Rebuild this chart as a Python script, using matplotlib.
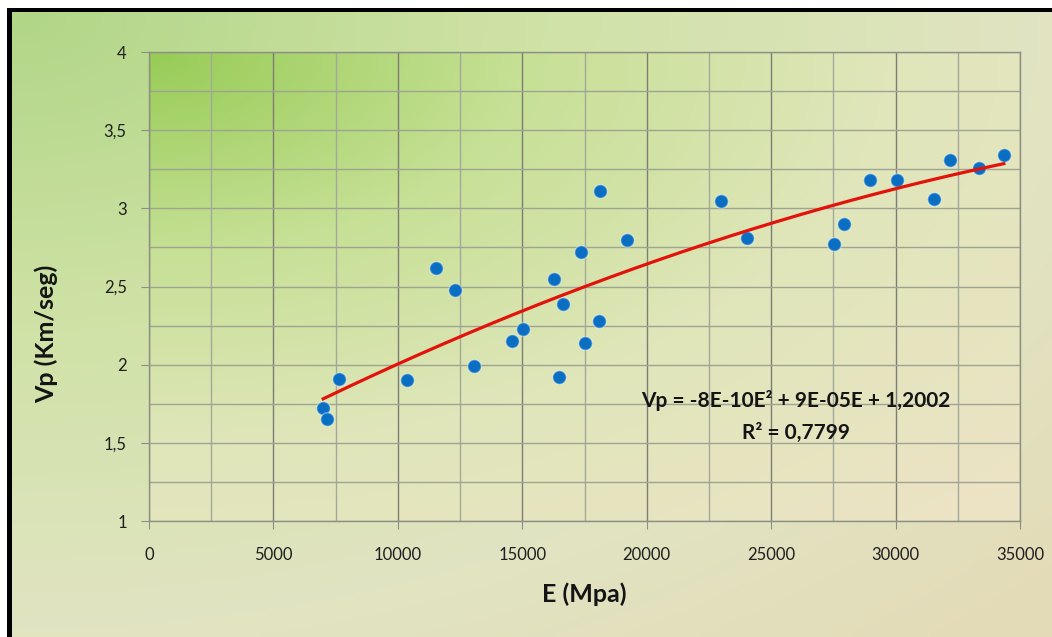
import numpy as np
import matplotlib
matplotlib.use("Agg")
import matplotlib.pyplot as plt
import matplotlib.ticker as ticker
from matplotlib.colors import LinearSegmentedColormap

plt.rcParams['font.family'] = ['Lato', 'DejaVu Sans']

# Young's modulus (MPa) vs P-wave velocity (km/s)
E_mpa = [7000, 7160, 7640, 10380, 11550, 12310, 13070, 14600, 15040, 16290,
         16650, 16490, 17340, 17500, 18100, 18140, 19190, 22970, 24010, 27510,
         27920, 28960, 30050, 31540, 32180, 33350, 34350]
vp_kms = [1.72, 1.65, 1.91, 1.90, 2.62, 2.48, 1.99, 2.15, 2.23, 2.55,
          2.39, 1.92, 2.72, 2.14, 2.28, 3.11, 2.80, 3.05, 2.81, 2.77,
          2.90, 3.18, 3.18, 3.06, 3.31, 3.26, 3.34]

eq_label = "Vp = -8E-10E² + 9E-05E + 1,2002"
r2_label = "R² = 0,7799"

W, H = 1052, 637
fig = plt.figure(figsize=(W / 100, H / 100), dpi=100)
fig.patch.set_facecolor('white')

def gradient(nx, ny, stops):
    u = np.linspace(0, 1, nx)[None, :]
    v = np.linspace(0, 1, ny)[:, None]
    t = np.clip(np.sqrt(u ** 2 + v ** 2) / np.sqrt(2), 0, 1)
    cmap = LinearSegmentedColormap.from_list('bg', stops)
    return cmap(t)

# chart area background + black frame on top/left
bg = fig.add_axes([0, 0, 1, 1], zorder=-10)
bg.set_xlim(0, W)
bg.set_ylim(H, 0)
bg.axis('off')
bg_stops = [(0.0, '#b1d686'), (0.35, '#cfe2a6'), (0.7, '#e1e4c2'), (1.0, '#e4dab7')]
bg.imshow(gradient(200, 120, bg_stops), extent=[12, W, H, 12], aspect='auto', interpolation='bilinear')
bg.fill_between([7, W], 8, 12, color='black', lw=0)
bg.fill_between([7, 12], 8, H, color='black', lw=0)

ax = fig.add_axes([149 / W, 1 - 521 / H, (1020 - 149) / W, (521 - 52) / H])
ax.set_xlim(0, 35000)
ax.set_ylim(1, 4)
ax.set_facecolor('none')
plot_stops = [(0.0, '#97cc56'), (0.3, '#c6e095'), (0.6, '#e0e6ba'), (1.0, '#ede3c6')]
ax.imshow(gradient(200, 120, plot_stops), extent=[0, 35000, 1, 4], aspect='auto',
          interpolation='bilinear', zorder=0)

# gridlines
ax.xaxis.set_major_locator(ticker.MultipleLocator(5000))
ax.xaxis.set_minor_locator(ticker.MultipleLocator(2500))
ax.yaxis.set_major_locator(ticker.MultipleLocator(0.5))
ax.yaxis.set_minor_locator(ticker.MultipleLocator(0.25))
ax.grid(True, which='major', axis='x', color='#7d7d75', lw=1.0, zorder=1)
ax.grid(True, which='minor', axis='x', color='#a4a89a', lw=1.0, zorder=1)
ax.grid(True, which='both', axis='y', color='#9ea392', lw=1.0, zorder=1)

for s in ax.spines.values():
    s.set_color('#8c8f84')
    s.set_linewidth(1.0)

ax.yaxis.set_major_formatter(ticker.FuncFormatter(lambda y, pos: f"{y:g}".replace('.', ',')))
ax.xaxis.set_major_formatter(ticker.FuncFormatter(lambda x, pos: f"{int(x)}"))
ax.tick_params(which='major', direction='out', length=6, color='#8c8f84', labelsize=12,
               labelcolor='#1f1f1f')
ax.tick_params(axis='y', pad=10)
ax.tick_params(axis='x', pad=13)
ax.tick_params(which='minor', length=0)

ax.scatter(E_mpa, vp_kms, s=95, color='#0a6fc2', edgecolors=(1, 1, 1, 0.35), linewidths=1.2, zorder=3)

# second-order polynomial trend line
coef = np.polyfit(E_mpa, vp_kms, 2)
xs = np.linspace(min(E_mpa), max(E_mpa), 200)
ax.plot(xs, np.polyval(coef, xs), color='#e3120b', lw=2.3, zorder=4)

ax.text(26000, 1.77, eq_label, ha='center', va='center', fontsize=15, fontweight='bold', color='#141414', zorder=5)
ax.text(26000, 1.565, r2_label, ha='center', va='center', fontsize=15, fontweight='bold', color='#141414', zorder=5)

ax.set_xlabel("E (Mpa)", fontsize=18, fontweight='bold', color='#141414')
ax.set_ylabel("Vp (Km/seg)", fontsize=18, fontweight='bold', color='#141414')
ax.xaxis.set_label_coords(0.5, -0.13)
ax.yaxis.set_label_coords(-0.104, 0.40)

fig.savefig("out.png", dpi=100)
